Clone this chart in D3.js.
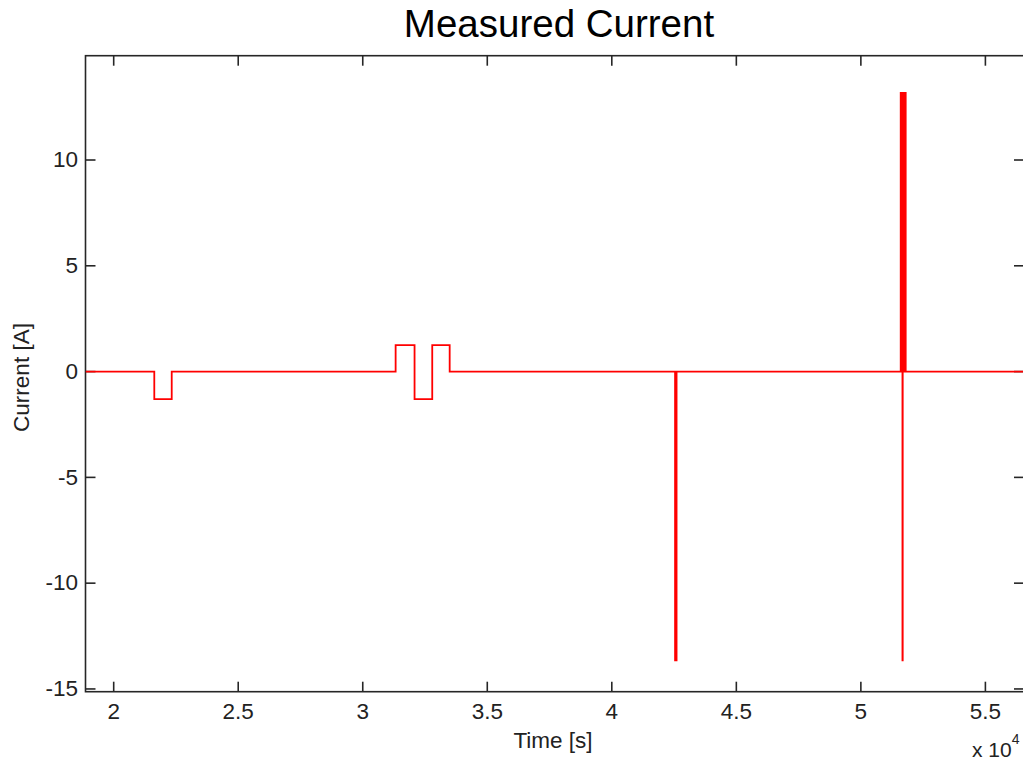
<!DOCTYPE html>
<html>
<head>
<meta charset="utf-8">
<script src="https://cdn.jsdelivr.net/npm/d3@7"></script>
<style>
  html, body { margin: 0; padding: 0; background: #fff; }
  svg { display: block; font-family: "Liberation Sans", Arial, sans-serif; }
</style>
</head>
<body>
<svg id="chart" width="1023" height="760"></svg>
<script>
// ---- data ----
const title = "Measured Current";
const xLabel = "Time [s]";
const yLabel = "Current [A]";
// step signal: value holds from time[i] until time[i+1]
const times  = [18870, 21630, 22330, 31320, 32080, 32790, 33490, 42540, 42600,
                51600, 51620, 51645, 51660, 51670, 51680, 51700, 51720, 51745, 51765, 51790, 51800, 56900];
const values = [0, -1.3, 0, 1.25, -1.3, 1.25, 0, -13.65, 0,
                13.17, 0, 13.17, 0, -13.65, 0, 13.17, 0, 13.17, 0, 13.17, 0, 0];
const xTicks = [20000, 25000, 30000, 35000, 40000, 45000, 50000, 55000];
const xTickLabels = ["2", "2.5", "3", "3.5", "4", "4.5", "5", "5.5"];
const yTicks = [-15, -10, -5, 0, 5, 10];
const yTickLabels = ["-15", "-10", "-5", "0", "5", "10"];
const xDomain = [18868, 56550];
const yDomain = [-15.13, 14.93];

// ---- layout ----
const L = 85.5, R = 1024, T = 55.7, B = 691.7;
const svg = d3.select("#chart");
const x = d3.scaleLinear().domain(xDomain).range([L, R]);
const y = d3.scaleLinear().domain(yDomain).range([B, T]);

svg.append("defs").append("clipPath").attr("id", "clip")
  .append("rect").attr("x", L).attr("y", T).attr("width", R - L).attr("height", B - T);

const axisColor = "#262626";
const tickLen = 10;
const fs = 22.5;

function styleAxis(g) {
  g.select(".domain").remove();
  g.selectAll(".tick line").attr("stroke", axisColor).attr("stroke-width", 1.6);
  g.selectAll(".tick text").attr("fill", "#222").style("font-size", fs + "px")
    .style("font-family", "'Liberation Sans', Arial, sans-serif");
}

// bottom axis
const xAxisB = d3.axisBottom(x).tickValues(xTicks).tickFormat((d, i) => xTickLabels[i])
  .tickSizeInner(-tickLen).tickSizeOuter(0).tickPadding(11).offset(0);
svg.append("g").attr("transform", `translate(0,${B})`).call(xAxisB).call(styleAxis);
// top axis (ticks only)
const xAxisT = d3.axisTop(x).tickValues(xTicks).tickFormat("")
  .tickSizeInner(-tickLen).tickSizeOuter(0).offset(0);
svg.append("g").attr("transform", `translate(0,${T})`).call(xAxisT).call(styleAxis);
// left axis
const yAxisL = d3.axisLeft(y).tickValues(yTicks).tickFormat((d, i) => yTickLabels[i])
  .tickSizeInner(-tickLen).tickSizeOuter(0).tickPadding(7.5).offset(0);
svg.append("g").attr("transform", `translate(${L},0)`).call(yAxisL).call(styleAxis);
// right axis
const yAxisR = d3.axisRight(y).tickValues(yTicks).tickFormat("")
  .tickSizeInner(-tickLen).tickSizeOuter(0).offset(0);
svg.append("g").attr("transform", `translate(${R},0)`).call(yAxisR).call(styleAxis);

// box
svg.append("rect").attr("x", L).attr("y", T).attr("width", R - L).attr("height", B - T)
  .attr("fill", "none").attr("stroke", axisColor).attr("stroke-width", 1.6);

// signal (drawn over ticks)
const data = times.map((t, i) => ({ t, v: values[i] }));
const line = d3.line().x(d => x(d.t)).y(d => y(d.v)).curve(d3.curveStepAfter);
svg.append("path")
  .datum(data)
  .attr("clip-path", "url(#clip)")
  .attr("fill", "none")
  .attr("stroke", "#ff0000")
  .attr("stroke-width", 1.8)
  .attr("d", line);

// title
svg.append("text").attr("x", 559).attr("y", 37).attr("text-anchor", "middle")
  .style("font-size", "38.5px").attr("fill", "#000").text(title);

// axis labels
svg.append("text").attr("x", 553).attr("y", 748).attr("text-anchor", "middle")
  .style("font-size", fs + "px").attr("fill", "#222").text(xLabel);
svg.append("text").attr("transform", `translate(29,377.5) rotate(-90)`).attr("text-anchor", "middle")
  .style("font-size", fs + "px").attr("fill", "#222").text(yLabel);

// exponent
const ex = svg.append("text").attr("x", 972).attr("y", 757).style("font-size", "21px").attr("fill", "#222");
ex.append("tspan").text("x 10");
ex.append("tspan").attr("dy", -13).style("font-size", "14px").text("4");
</script>
</body>
</html>
